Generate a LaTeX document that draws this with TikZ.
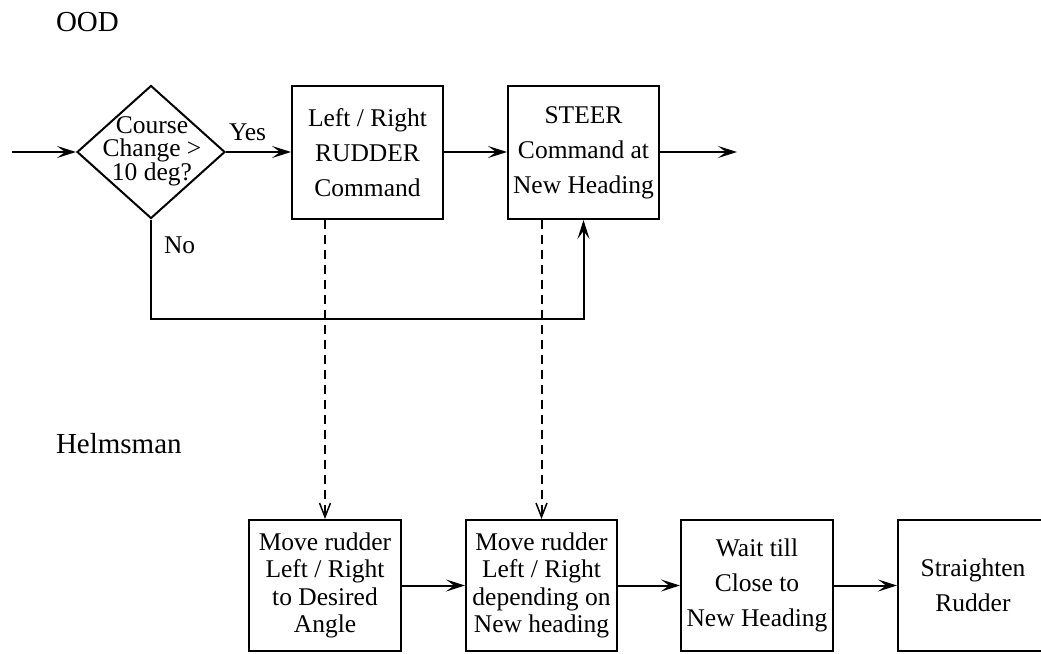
\documentclass[tikz,border=0pt]{standalone}
\usepackage{fontspec}
\setmainfont{Liberation Serif}
\usetikzlibrary{arrows.meta,shapes.geometric}
\begin{document}
\begin{tikzpicture}[x=1pt,y=-1pt,
  line width=2pt,
  boxtxt/.style={font=\fontsize{25.5}{35}\selectfont},
  topbox/.style={draw, inner sep=0pt, minimum width=151pt, minimum height=133pt, align=center, boxtxt},
  botbox/.style={draw, inner sep=0pt, minimum width=152pt, minimum height=131pt, align=center, boxtxt},
  tight/.style={font=\fontsize{25.5}{27.5}\selectfont},
  flow/.style={-{Stealth[length=19pt,width=12pt,inset=8pt]}},
  dashflow/.style={dash pattern=on 9pt off 6pt, -{Straight Barb[length=14pt,width=11pt,line width=1.5pt]}},
  lane/.style={font=\fontsize{29}{35}\selectfont, anchor=base west, inner sep=0pt},
  lbl/.style={font=\fontsize{25.5}{30}\selectfont, anchor=base west, inner sep=0pt}
]
\useasboundingbox (0,0) rectangle (1041,653);

\node[lane] (ood) at (55,31) {OOD};
\node[lane] (helm) at (55,453) {Helmsman};

% top row
\node[diamond, draw, inner sep=0pt, minimum width=148pt, minimum height=133pt] (dia) at (151,152) {};
\node[align=center, inner sep=0pt, font=\fontsize{25.5}{23.5}\selectfont] (diatxt) at (152,151) {Course\\Change >\\10 deg?};
\node[topbox] (rudder) at (367.5,152.5) {Left / Right\\RUDDER\\Command};
\node[topbox] (steer) at (583.5,152.5) {STEER\\Command at\\New Heading};

\coordinate (in) at (12,152);
\coordinate (out) at (737,152);
\coordinate (fb) at (151,319);

\draw[flow] (in) -- (dia.west);
\draw[flow] (dia.east) -- (rudder.west |- dia.east);
\draw[flow] (rudder.east |- dia.east) -- (steer.west |- dia.east);
\draw[flow] (steer.east |- dia.east) -- (out);
\draw[flow] (dia.south) -- (fb) -| (steer.south);

\node[lbl] (yes) at (228,140) {Yes};
\node[lbl] (no) at (163,253) {No};

% bottom row
\node[botbox, tight] (b1) at (325,585.5) {Move rudder\\Left / Right\\to Desired\\Angle};
\node[botbox, tight, minimum width=151pt] (b2) at (541.5,585.5) {Move rudder\\Left / Right\\depending on\\New heading};
\node[botbox] (b3) at (757,585.5) {Wait till\\Close to\\New Heading};
\node[botbox, minimum width=150pt] (b4) at (973,585.5) {Straighten\\Rudder};

\draw[dashflow] (b1.north |- rudder.south) -- (b1.north);
\draw[dashflow] (b2.north |- steer.south) -- (b2.north);

\draw[flow] (b1.east) -- (b2.west);
\draw[flow] (b2.east) -- (b3.west);
\draw[flow] (b3.east) -- (b4.west);
\end{tikzpicture}
\end{document}
